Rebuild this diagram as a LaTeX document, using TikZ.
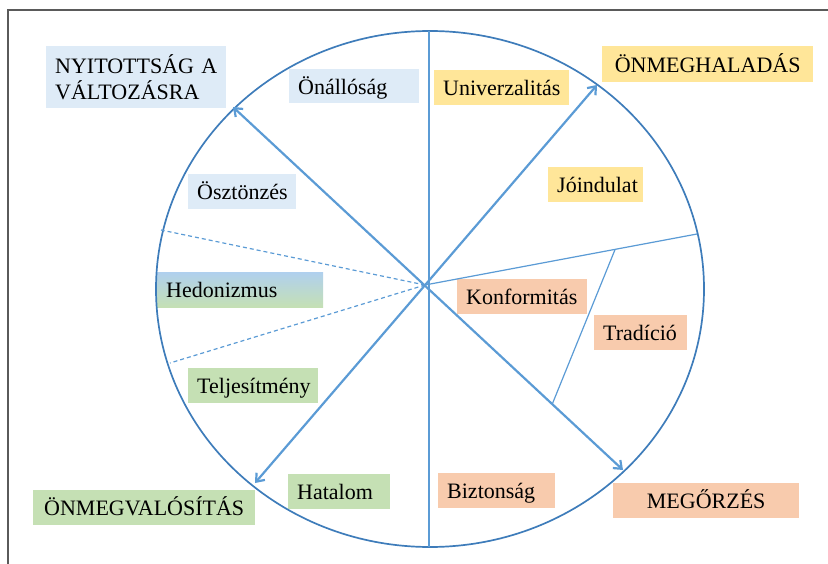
\documentclass[tikz,border=0pt]{standalone}
\usepackage{fontspec}
\setmainfont{Liberation Serif}
\usetikzlibrary{arrows.meta,calc}
\definecolor{lblue}{HTML}{DEEBF7}
\definecolor{lyellow}{HTML}{FFE699}
\definecolor{lgreen}{HTML}{C5E0B4}
\definecolor{lpeach}{HTML}{F8CBAD}
\definecolor{hblue}{HTML}{B0D0EE}
\definecolor{linecol}{HTML}{5B9BD5}
\definecolor{ellcol}{HTML}{3E7CBA}
\definecolor{framecol}{HTML}{5A5A5A}
\begin{document}
\begin{tikzpicture}[x=1pt,y=-1pt,
  lab/.style={anchor=north west, inner xsep=9pt, inner ysep=0pt,
    text height=20pt, text depth=4pt,
    font=\fontsize{22}{26}\selectfont, align=left},
  bigtwo/.style={anchor=north west, inner xsep=4pt, inner ysep=0pt,
    font=\fontsize{22}{26}\selectfont, align=left},
  thinline/.style={draw=linecol, line width=1.2pt},
  dashline/.style={draw=linecol, line width=1.2pt, dash pattern=on 4pt off 3pt},
  arrowline/.style={draw=linecol, line width=2.2pt,
    {Straight Barb[length=7pt,width=11pt]}-{Straight Barb[length=7pt,width=11pt]}},
  ellline/.style={draw=ellcol, line width=1.7pt},
  frameline/.style={draw=framecol, line width=1.5pt},
]
\useasboundingbox (0,0) rectangle (828,564);

% frame
\draw[frameline] (8,564) -- (8,10) -- (828,10);

% labels
\node[bigtwo, fill=lblue, text width=172pt, minimum height=62pt] (nyit) at (46,46)
  {\hspace*{5pt}NYITOTTSÁG A\\\hspace*{5pt}VÁLTOZÁSRA};
\node[lab, fill=lyellow, text width=193pt, minimum height=36pt, align=center] (onmeghal) at (602,46) {ÖNMEGHALADÁS};
\node[lab, fill=lgreen, text width=204pt, minimum height=35pt, align=center] (onmegval) at (33,490) {ÖNMEGVALÓSÍTÁS};
\node[lab, fill=lpeach, text width=168pt, minimum height=35pt, align=center] (megorz) at (613,483) {MEGŐRZÉS};

\node[lab, fill=lblue, text width=112pt, minimum height=34pt] (onall) at (289,69) {Önállóság};
\node[lab, fill=lyellow, text width=117pt, minimum height=35pt] (univ) at (434,70) {Univerzalitás};
\node[lab, fill=lyellow, text width=77pt, minimum height=35pt] (joind) at (548,167) {Jóindulat};
\node[lab, fill=lblue, text width=90pt, minimum height=35pt] (osztonz) at (188,174) {Ösztönzés};
\node[lab, top color=hblue, bottom color=lgreen, text width=148pt, minimum height=35pt] (hedon) at (157,272) {Hedonizmus};
\node[lab, fill=lgreen, text width=112pt, minimum height=35pt] (telj) at (188,368) {Teljesítmény};
\node[lab, fill=lgreen, text width=84pt, minimum height=35pt] (hatal) at (288,474) {Hatalom};
\node[lab, fill=lpeach, text width=99pt, minimum height=35pt] (bizt) at (438,473) {Biztonság};
\node[lab, fill=lpeach, text width=112pt, minimum height=35pt] (konf) at (457,279) {Konformitás};
\node[lab, fill=lpeach, text width=75pt, minimum height=35pt] (trad) at (594,315) {Tradíció};

% geometry
\coordinate (hub) at (425,285);
\coordinate (top) at (429,31);
\coordinate (bot) at (429,547);
\coordinate (nw) at (233,107);
\coordinate (se) at (623,470);
\coordinate (ne) at (597,85);
\coordinate (sw) at (255,483);
\coordinate (re) at (697,234);
\coordinate (dl1) at (161,230);
\coordinate (dl2) at (170,363);
\coordinate (d1) at ($(hub)!0.699!(re)$);
\coordinate (d2) at ($(hub)!0.643!(se)$);

\draw[ellline] (430,289) ellipse [x radius=274pt, y radius=258pt];
\draw[thinline] (top) -- (bot);
\draw[thinline] (hub) -- (re);
\draw[thinline] (d1) -- (d2);
\draw[dashline] (hub) -- (dl1);
\draw[dashline] (hub) -- (dl2);
\draw[arrowline] (nw) -- (se);
\draw[arrowline] (ne) -- (sw);
\end{tikzpicture}
\end{document}
